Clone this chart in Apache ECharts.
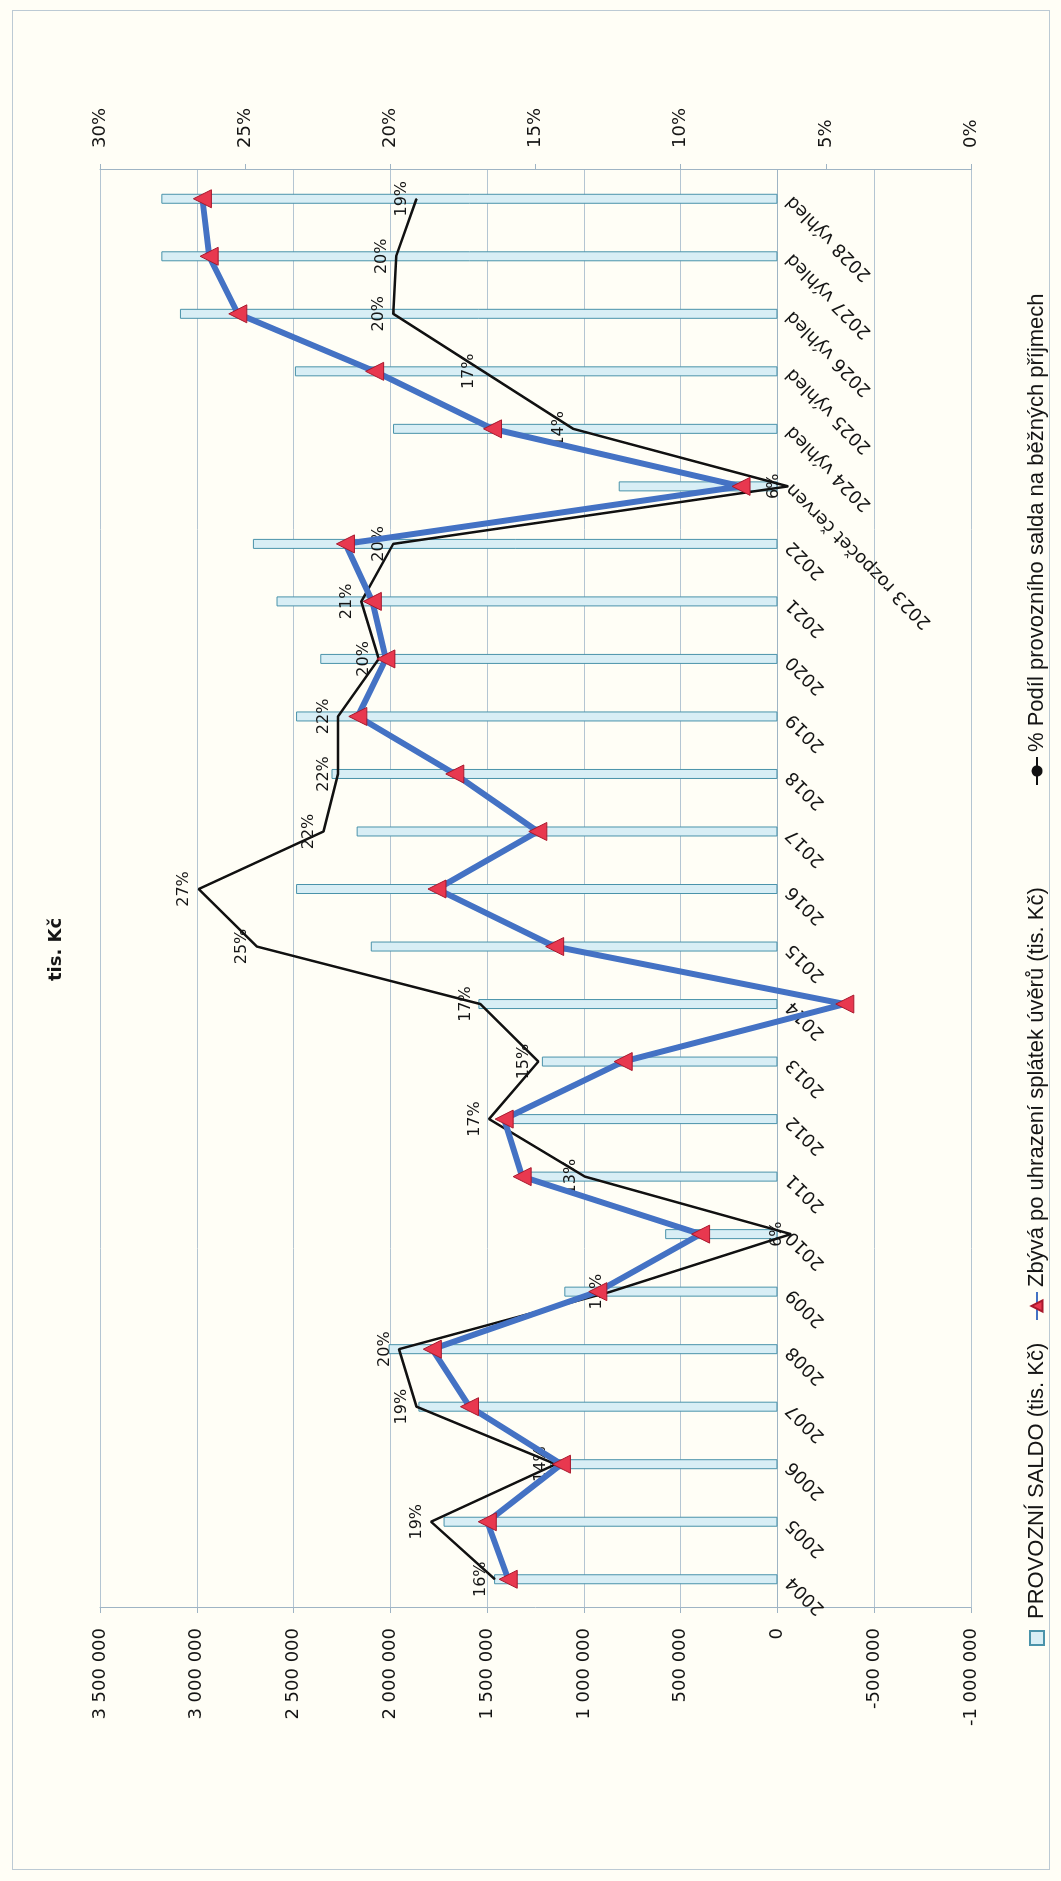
<!DOCTYPE html>
<html>
<head>
<meta charset="utf-8">
<script src="https://cdn.jsdelivr.net/npm/echarts@6/dist/echarts.min.js"></script>
<style>
  html, body { margin: 0; padding: 0; width: 1061px; height: 1881px; overflow: hidden; background: #fffef6; }
  /* outer frame of the chart object */
  #frame { position: absolute; left: 12px; top: 10px; width: 1038px; height: 1860px; border: 1px solid #bccad4; box-sizing: border-box; }
  /* the chart is drawn landscape and turned a quarter turn to the left, like the scan */
  #chart { position: absolute; left: 0; top: 0; width: 1881px; height: 1061px; transform-origin: 0 0; transform: translateY(1881px) rotate(-90deg); }
</style>
</head>
<body>
<div id="frame"></div>
<div id="chart"></div>
<script>
// --- data ---
const categories = ['2004', '2005', '2006', '2007', '2008', '2009', '2010', '2011', '2012', '2013',
  '2014', '2015', '2016', '2017', '2018', '2019', '2020', '2021', '2022',
  '2023 rozpočet červen', '2024 výhled', '2025 výhled', '2026 výhled', '2027 výhled', '2028 výhled'];

// PROVOZNÍ SALDO (tis. Kč)
const provozniSaldo = [1464000, 1725000, 1174000, 1855000, 2009000, 1101000, 580000, 1290000, 1406000, 1217000,
  1545000, 2101000, 2487000, 2174000, 2304000, 2487000, 2362000, 2588000, 2710000,
  820000, 1986000, 2493000, 3087000, 3183000, 3183000];

// Zbývá po uhrazení splátek úvěrů (tis. Kč)
const zbyva = [1391000, 1499000, 1116000, 1591000, 1783000, 928000, 397000, 1319000, 1412000, 797000,
  -348000, 1151000, 1759000, 1238000, 1667000, 2168000, 2023000, 2093000, 2232000,
  188000, 1472000, 2081000, 2788000, 2936000, 2971000];

// % Podíl provozního salda na běžných příjmech
const podil = [16.4, 18.6, 14.3, 19.1, 19.7, 12.4, 6.2, 13.3, 16.6, 14.9,
  16.9, 24.6, 26.6, 22.3, 21.8, 21.8, 20.4, 21.0, 19.9,
  6.3, 13.7, 16.8, 19.9, 19.8, 19.1];

// axis ranges
const kcMin = -1000000, kcMax = 3500000, kcStep = 500000;
const pctMin = 0, pctMax = 30, pctStep = 5;

const names = ['PROVOZNÍ SALDO (tis. Kč)', 'Zbývá po uhrazení splátek úvěrů (tis. Kč)', '% Podíl provozního salda na běžných příjmech'];

const axisColor = '#9fb4c4';
const gridColor = '#b4c5d2';
const txt = '#151515';
const font = 'DejaVu Sans';

// grid box (chart drawn landscape 1881 x 1061)
const gridTop = 100, gridBottom = 90, gridH = 1061 - gridTop - gridBottom;
// category axis sits on the zero line of the tis. Kč axis, labels included
const zeroShift = gridH * (0 - kcMin) / (kcMax - kcMin);

// 3500000 -> "3 500 000"
const fmtKc = v => (v < 0 ? '-' : '') + String(Math.abs(v)).replace(/\B(?=(\d{3})+(?!\d))/g, ' ');

const legendText = { fontFamily: 'Liberation Sans', fontSize: 22, color: txt };
const legendBase = { top: 1021, itemWidth: 28, itemHeight: 14, textStyle: legendText };

const chart = echarts.init(document.getElementById('chart'), null, { width: 1881, height: 1061 });

chart.setOption({
  animation: false,
  backgroundColor: 'transparent',
  title: {
    text: 'tis. Kč',
    left: 895, top: 42,
    textStyle: { fontFamily: font, fontSize: 18, fontWeight: 'bold', color: txt }
  },
  legend: [
    Object.assign({ left: 230, data: [{ name: names[0], icon: 'path://M0,0H10V10H0Z' }] }, legendBase),
    Object.assign({ left: 555, data: [names[1]] }, legendBase),
    Object.assign({ left: 1090, data: [names[2]] }, legendBase)
  ],
  grid: { left: 273, right: 170, top: gridTop, bottom: gridBottom, containLabel: false, outerBoundsMode: 'none' },
  xAxis: {
    type: 'category',
    data: categories,
    offset: -zeroShift,
    axisLine: { onZero: false, lineStyle: { color: axisColor } },
    axisTick: { length: 5, lineStyle: { color: axisColor } },
    axisLabel: { interval: 0, rotate: 45, margin: 12, color: txt, fontFamily: font, fontSize: 18 }
  },
  yAxis: [
    {
      type: 'value', min: kcMin, max: kcMax, interval: kcStep,
      axisLine: { show: true, lineStyle: { color: axisColor } },
      axisTick: { show: true, length: 5, lineStyle: { color: axisColor } },
      splitLine: { lineStyle: { color: gridColor } },
      axisLabel: { margin: 20, color: txt, fontFamily: font, fontSize: 18, formatter: fmtKc }
    },
    {
      type: 'value', position: 'right', min: pctMin, max: pctMax, interval: pctStep,
      axisLine: { show: true, lineStyle: { color: axisColor } },
      axisTick: { show: true, length: 6, lineStyle: { color: axisColor } },
      splitLine: { show: false },
      axisLabel: { margin: 22, color: txt, fontFamily: font, fontSize: 18, formatter: '{value}%' }
    }
  ],
  series: [
    {
      name: names[0],
      type: 'bar',
      data: provozniSaldo,
      barWidth: 10,
      itemStyle: { color: '#d8eef5', borderColor: '#4a93aa', borderWidth: 1 },
      z: 1
    },
    {
      name: names[2],
      type: 'line',
      yAxisIndex: 1,
      data: podil,
      symbol: 'circle',
      symbolSize: 1,
      itemStyle: { color: '#111' },
      lineStyle: { color: '#111', width: 2.5 },
      label: {
        show: true, position: 'top', distance: 6,
        color: txt, fontFamily: font, fontSize: 16,
        formatter: p => Math.round(p.value) + '%'
      },
      z: 2
    },
    {
      name: names[1],
      type: 'line',
      data: zbyva,
      symbol: 'triangle',
      symbolSize: 18,
      lineStyle: { color: '#4472c4', width: 6 },
      itemStyle: { color: '#e8384f', borderColor: '#a8182c', borderWidth: 1 },
      z: 3
    }
  ]
});
</script>
</body>
</html>
